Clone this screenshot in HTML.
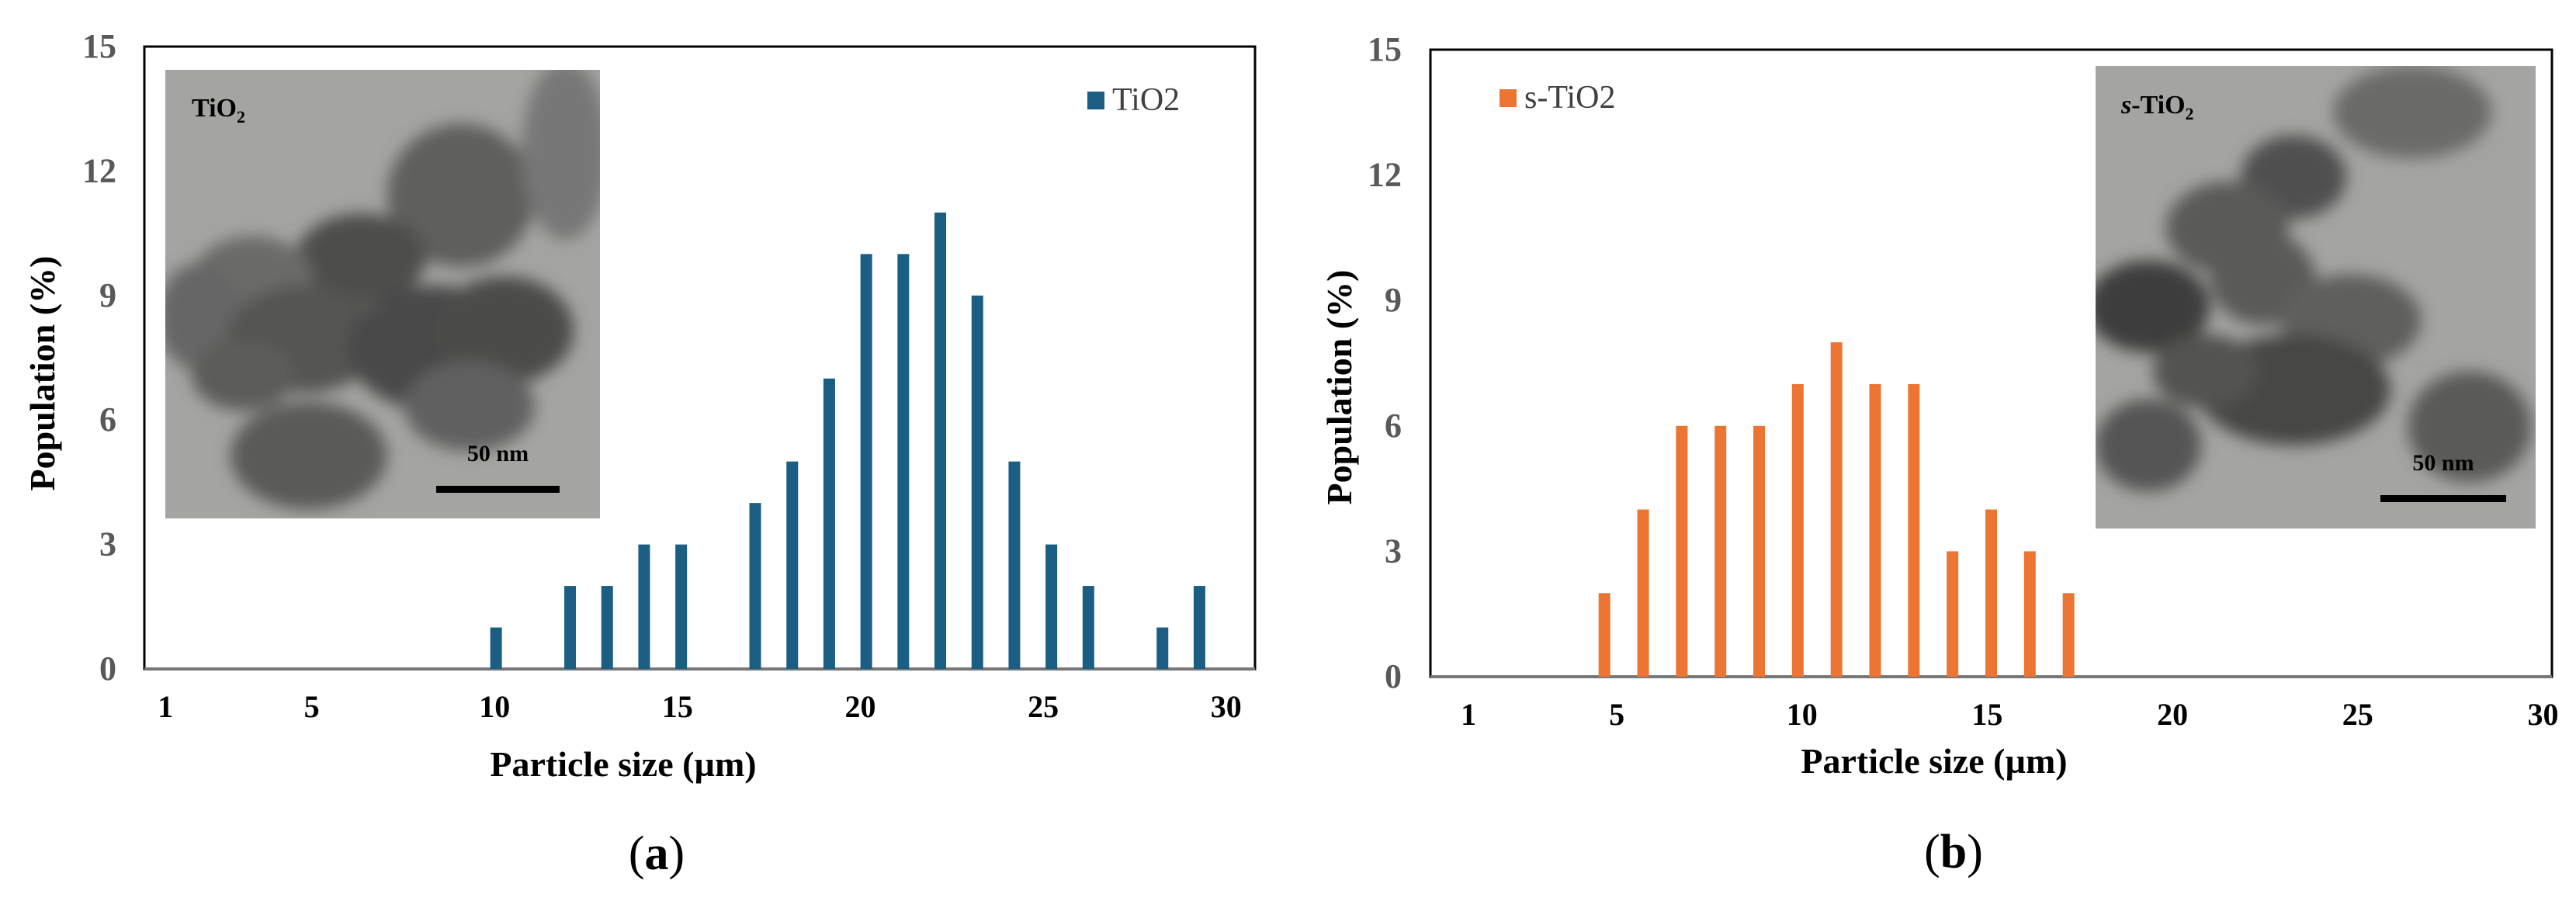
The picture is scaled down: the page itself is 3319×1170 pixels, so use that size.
<!DOCTYPE html>
<html><head><meta charset="utf-8"><style>
html,body{margin:0;padding:0;background:#fff;}
svg{display:block;}
text{font-family:"Liberation Serif",serif;}
</style></head><body>
<svg id="fig" width="3319" height="1170" viewBox="0 0 3319 1170" xmlns="http://www.w3.org/2000/svg">
<defs>
<filter id="blur" x="-20%" y="-20%" width="140%" height="140%"><feGaussianBlur stdDeviation="10"/></filter>
<clipPath id="clipA"><rect x="213" y="90" width="560" height="578"/></clipPath>
<clipPath id="clipB"><rect x="2700" y="85" width="567" height="596"/></clipPath>
</defs>
<g id="panelA"></g>
<g id="panelB"></g>
</svg>
<script>
// Panel (a) data
const catsA = [10,12,13,14,15,17,18,19,20,21,22,23,24,25,26,28,29];
const valsA = [1,2,2,3,3,4,5,7,10,10,11,9,5,3,2,1,2];
// Panel (b) data
const catsB = [5,6,7,8,9,10,11,12,13,14,15,16,17];
const valsB = [2,4,6,6,6,7,8,7,7,3,4,3,2];
const yTicks = [0,3,6,9,12,15];
const xTickLabels = [1,5,10,15,20,25,30];

const NS = "http://www.w3.org/2000/svg";
function mk(tag, attrs, parent, txt){
  const e = document.createElementNS(NS, tag);
  for (const k in attrs) e.setAttribute(k, attrs[k]);
  if (txt !== undefined) e.textContent = txt;
  parent.appendChild(e);
  return e;
}

function drawPhoto(g, x, y, w, h, clip, blobs, label, labelItalic, bar){
  const pg = mk('g', {'clip-path':'url(#'+clip+')'}, g);
  
  
  mk('rect', {x:x, y:y, width:w, height:h, fill:'#a4a4a2'}, pg);
  const bg = mk('g', {filter:'url(#blur)'}, pg);
  blobs.forEach(b => mk('ellipse', {cx:x+b[0]*w, cy:y+b[1]*h, rx:b[2]*w, ry:b[3]*h, fill:b[4]}, bg));
  const t = mk('text', {x:label[0], y:label[1], 'font-size':34, 'font-weight':'bold', fill:'#000'}, g);
  
  
  if (labelItalic){ mk('tspan', {'font-style':'italic'}, t, 's'); mk('tspan', {}, t, '-'); }
  mk('tspan', {}, t, 'TiO');
  mk('tspan', {'font-size':22, dy:8}, t, '2');
  const sl = mk('text', {x:bar[0]+(bar[2]-bar[0])/2, y:bar[1]-32, 'font-size':30, 'font-weight':'bold', 'text-anchor':'middle'}, g, '50 nm');
  
  
  const sb = mk('rect', {x:bar[0], y:bar[1], width:bar[2]-bar[0], height:9, fill:'#000'}, g);
  
  
}

function drawPanel(g, o){
  const {x0,x1,y0,y1,n,cats,vals,color,lab0,lab1} = o;
  const band = (x1-x0)/n;
  const xc = c => x0 + (c-0.5)*band;
  const yv = v => y1 - (v/15)*(y1-y0);
  const xl = v => x0 + (lab0 + (v-1)/29*(lab1-lab0))*(x1-x0);
  // photo first (behind frame)
  drawPhoto(g, o.ph[0], o.ph[1], o.ph[2], o.ph[3], o.clip, o.blobs, o.plabel, o.italic, o.bar);
  const fr = mk('rect', {x:x0, y:y0, width:x1-x0, height:y1-y0, fill:'none', stroke:'#000', 'stroke-width':3}, g);
  
  
  const ax = mk('line', {x1:x0, x2:x1, y1:y1, y2:y1, stroke:'#777', 'stroke-width':4}, g);
  
  
  cats.forEach((c,i) => {
    const r = mk('rect', {x:xc(c)-7.5, y:yv(vals[i]), width:15, height:yv(0)-yv(vals[i]), fill:color}, g);
    
    
  });
  yTicks.forEach(t => {
    const e = mk('text', {x:o.ytx, y:yv(t)+14, 'font-size':44, 'font-weight':'bold', fill:'#595959', 'text-anchor':'end'}, g, String(t));
    
    
  });
  xTickLabels.forEach(t => {
    const e = mk('text', {x:xl(t), y:y1+62, 'font-size':40, 'font-weight':'bold', fill:'#000', 'text-anchor':'middle'}, g, String(t));
    
    
  });
  const xt = mk('text', {x:o.xtx, y:o.xty, 'font-size':46, 'font-weight':'bold', 'text-anchor':'middle'}, g, 'Particle size (µm)');
  
  
  const yt = mk('text', {x:0, y:0, 'font-size':46, 'font-weight':'bold', 'text-anchor':'middle', transform:'translate('+o.ytt[0]+','+o.ytt[1]+') rotate(-90)'}, g, 'Population (%)');
  
  
  const lg = mk('g', {}, g);
  
  
  mk('rect', {x:o.leg[0], y:o.leg[1], width:22, height:23, fill:color}, lg);
  mk('text', {x:o.leg[0]+32, y:o.leg[1]+24, 'font-size':42, fill:'#404040'}, lg, o.legText);
  const cap = mk('text', {x:o.cap[0], y:o.cap[1], 'font-size':62, 'text-anchor':'middle'}, g);
  
  
  mk('tspan', {}, cap, '(');
  mk('tspan', {'font-weight':'bold'}, cap, o.capL);
  mk('tspan', {}, cap, ')');
}

const blobsA = [
 [0.68,0.28,0.17,0.16,'#5e5e5c'],[0.45,0.42,0.15,0.1,'#4e4e4c'],[0.2,0.47,0.14,0.1,'#6a6a68'],
 [0.08,0.55,0.1,0.12,'#666'],[0.32,0.6,0.18,0.12,'#555553'],[0.62,0.62,0.2,0.14,'#4a4a48'],
 [0.78,0.58,0.16,0.12,'#4c4c4a'],[0.33,0.86,0.18,0.12,'#5a5a58'],[0.92,0.18,0.1,0.2,'#777'],
 [0.7,0.75,0.15,0.1,'#606060'],[0.18,0.68,0.12,0.08,'#5c5c5a']];
const blobsB = [
 [0.72,0.1,0.18,0.1,'#6a6a68'],[0.45,0.24,0.12,0.09,'#505050'],[0.3,0.35,0.14,0.1,'#5a5a58'],
 [0.12,0.52,0.14,0.1,'#3e3e3c'],[0.38,0.46,0.12,0.1,'#5a5a58'],[0.58,0.55,0.16,0.1,'#5f5f5d'],
 [0.45,0.7,0.22,0.12,'#464644'],[0.12,0.82,0.12,0.1,'#555'],[0.85,0.78,0.14,0.12,'#5a5a58'],
 [0.25,0.66,0.12,0.08,'#525250']];

drawPanel(document.getElementById('panelA'), {
  x0:186, x1:1617, y0:60, y1:862, n:30, cats:catsA, vals:valsA, color:'#1b5e83',
  lab0:0.019, lab1:0.974, ytx:150, xtx:803, xty:1000, ytt:[70,481],
  leg:[1401,118], legText:'TiO2', cap:[846,1120], capL:'a',
  ph:[213,90,560,578], clip:'clipA', blobs:blobsA, plabel:[247,150], italic:false, bar:[562,626,721]
});
drawPanel(document.getElementById('panelB'), {
  x0:1843, x1:3288, y0:64, y1:872, n:29, cats:catsB, vals:valsB, color:'#ed7533',
  lab0:0.034, lab1:0.992, ytx:1806, xtx:2492, xty:996, ytt:[1741,499],
  leg:[1932,115], legText:'s-TiO2', cap:[2517,1118], capL:'b',
  ph:[2700,85,567,596], clip:'clipB', blobs:blobsB, plabel:[2733,146], italic:true, bar:[3067,638,3229]
});
</script>
</body></html>
